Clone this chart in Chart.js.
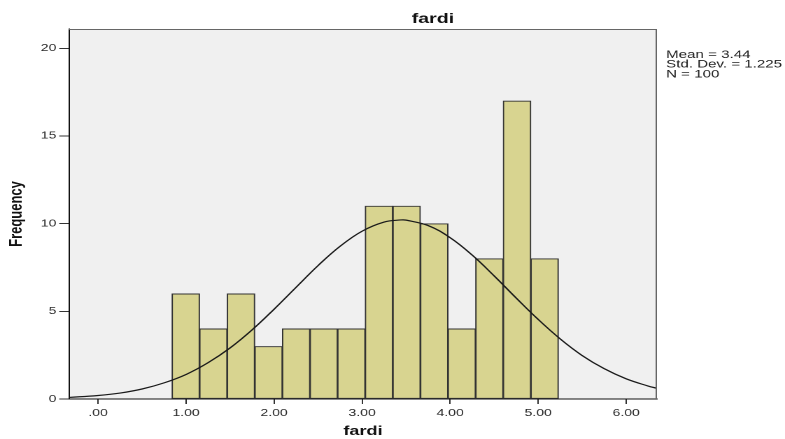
<!DOCTYPE html>
<html>
<head>
<meta charset="utf-8">
<title>fardi</title>
<script src="https://cdn.jsdelivr.net/npm/chart.js@4/dist/chart.umd.min.js"></script>
<style>
    html, body { margin: 0; padding: 0; background: #ffffff; overflow: hidden; }
    /* the source picture is stretched sideways, so draw narrow and stretch */
    #wrap { width: 561px; height: 439px; transform: scaleX(1.3993); transform-origin: 0 0; }
</style>
</head>
<body>
<div id="wrap"><canvas id="chart" width="561" height="439"></canvas></div>
<script>
// Histogram data (bin midpoints and counts)
const binMids = [0.9968, 1.3104, 1.6240, 1.9376, 2.2512, 2.5648, 2.8784, 3.1920, 3.5056, 3.8192, 4.1328, 4.4464, 4.7600, 5.0736];
const binCounts = [6, 4, 6, 3, 4, 4, 4, 11, 11, 10, 4, 8, 17, 8];

// Normal curve
const curveX = [-0.33, 0, 0.25, 0.5, 0.75, 1.0, 1.25, 1.5, 1.75, 2.0, 2.25, 2.5, 2.75, 3.0, 3.25, 3.44, 3.5, 3.75, 4.0, 4.25, 4.5, 4.75, 5.0, 5.25, 5.5, 5.75, 6.0, 6.25, 6.35];
const curveY = [0.09, 0.20, 0.34, 0.57, 0.92, 1.40, 2.07, 2.91, 3.94, 5.12, 6.37, 7.61, 8.71, 9.57, 10.09, 10.21, 10.20, 9.89, 9.20, 8.21, 7.02, 5.76, 4.54, 3.43, 2.48, 1.73, 1.15, 0.74, 0.61];

// Axis ticks
const xTickValues = [0, 1, 2, 3, 4, 5, 6];
const xTickLabels = ['.00', '1.00', '2.00', '3.00', '4.00', '5.00', '6.00'];
const yTickValues = [0, 5, 10, 15, 20];

const statLines = ['Mean = 3.44', 'Std. Dev. = 1.225', 'N = 100'];
const chartTitle = 'fardi';

const fontFamily = "'Liberation Sans', Arial, sans-serif";

// Grey plot background, frame, title and stats box
const decorPlugin = {
    id: 'decor',
    beforeDraw(chart) {
        const { ctx, chartArea: a } = chart;
        ctx.save();
        ctx.fillStyle = '#f0f0f0';
        ctx.fillRect(a.left, a.top, a.right - a.left, a.bottom - a.top);
        ctx.restore();
    },
    afterDraw(chart) {
        const { ctx, chartArea: a } = chart;
        ctx.save();
        ctx.strokeStyle = '#666666';
        ctx.lineWidth = 1;
        ctx.beginPath();
        ctx.moveTo(a.left, a.top + 0.5);
        ctx.lineTo(a.right - 0.5, a.top + 0.5);
        ctx.lineTo(a.right - 0.5, a.bottom);
        ctx.stroke();

        ctx.fillStyle = '#111111';
        ctx.font = 'bold 14px ' + fontFamily;
        ctx.textAlign = 'center';
        ctx.textBaseline = 'alphabetic';
        ctx.fillText(chartTitle, 309.4, 23);

        ctx.font = '10.8px ' + fontFamily;
        ctx.textAlign = 'left';
        ctx.fillStyle = '#222222';
        statLines.forEach((line, i) => {
            ctx.fillText(line, 476, 58 + i * 9.7);
        });
        ctx.restore();
    }
};

new Chart(document.getElementById('chart'), {
    type: 'bar',
    data: {
        datasets: [
            {
                type: 'line',
                data: curveX.map((x, i) => ({ x: x, y: curveY[i] })),
                borderColor: '#1a1a1a',
                borderWidth: 1.2,
                pointRadius: 0,
                tension: 0.4,
                fill: false,
                order: 0
            },
            {
                type: 'bar',
                data: binMids.map((x, i) => ({ x: x, y: binCounts[i] })),
                backgroundColor: '#d8d490',
                borderColor: '#333333',
                borderWidth: 1,
                borderSkipped: false,
                barPercentage: 1,
                categoryPercentage: 1,
                order: 1
            }
        ]
    },
    options: {
        responsive: false,
        animation: false,
        devicePixelRatio: 2,
        layout: { padding: { top: 29, right: 91.5, bottom: 0, left: 0 } },
        plugins: {
            legend: { display: false },
            tooltip: { enabled: false }
        },
        scales: {
            x: {
                type: 'linear',
                min: -0.33,
                max: 6.35,
                offset: false,
                afterFit(scale) { scale.height = 40; },
                afterBuildTicks(scale) { scale.ticks = xTickValues.map(v => ({ value: v })); },
                grid: {
                    offset: false,
                    drawOnChartArea: false,
                    drawTicks: true,
                    tickLength: 5,
                    color: '#333333'
                },
                border: { display: true, color: '#111111', width: 1 },
                ticks: {
                    padding: 3,
                    color: '#2a2a2a',
                    font: { family: fontFamily, size: 10 },
                    maxRotation: 0,
                    autoSkip: false,
                    callback: (v, i) => xTickLabels[i]
                },
                title: {
                    display: true,
                    text: 'fardi',
                    color: '#111111',
                    font: { family: fontFamily, size: 13, weight: 'bold' },
                    padding: { top: 0, bottom: 0 }
                }
            },
            y: {
                min: 0,
                max: 21.1,
                afterFit(scale) { scale.width = 49.3; },
                afterBuildTicks(scale) { scale.ticks = yTickValues.map(v => ({ value: v })); },
                grid: {
                    drawOnChartArea: false,
                    drawTicks: true,
                    tickLength: 7,
                    color: '#333333'
                },
                border: { display: true, color: '#111111', width: 1 },
                ticks: {
                    padding: 2,
                    color: '#2a2a2a',
                    font: { family: fontFamily, size: 10 }
                },
                title: {
                    display: true,
                    text: 'Frequency',
                    color: '#111111',
                    font: { family: fontFamily, size: 13, weight: 'bold' },
                    padding: { top: 4, bottom: 0 }
                }
            }
        }
    },
    plugins: [decorPlugin]
});
</script>
</body>
</html>
